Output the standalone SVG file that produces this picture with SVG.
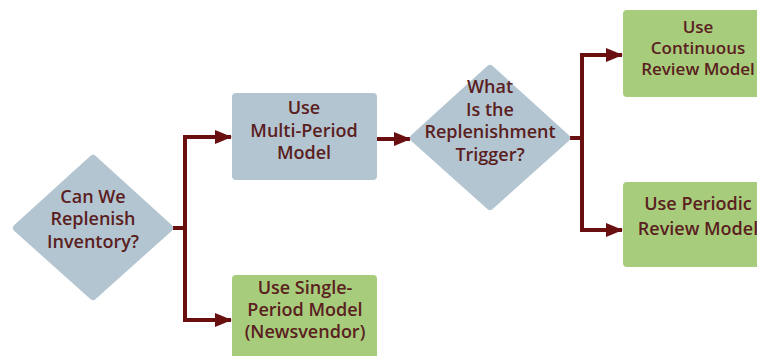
<svg xmlns="http://www.w3.org/2000/svg" width="757" height="356" viewBox="0 0 757 356">
  <style>
    .decision { fill: #b3c5d1; stroke: #b3c5d1; stroke-width: 8; stroke-linejoin: round; }
    .process { fill: #b3c5d1; }
    .outcome { fill: #a7cd7c; }
    .label { font-family: "Open Sans", "Liberation Sans", sans-serif; font-weight: 600; font-size: 18px; fill: #5a2020; text-anchor: middle; }
    .tight { font-size: 17px; }
    .wire { fill: none; stroke: #6a0f10; stroke-width: 4; stroke-linejoin: miter; }
  </style>
  <defs>
    <marker id="head" viewBox="0 0 17 14" refX="16" refY="7" markerWidth="17" markerHeight="14" markerUnits="userSpaceOnUse" orient="auto">
      <path d="M0,0 L17,7 L0,14 Z" fill="#6a0f10"/>
    </marker>
  </defs>

  <g id="connectors">
    <path class="wire" d="M173,228 H185 V137 H231" marker-end="url(#head)"/>
    <path class="wire" d="M185,228 V320 H231" marker-end="url(#head)"/>
    <path class="wire" d="M377,139 H410" marker-end="url(#head)"/>
    <path class="wire" d="M570,138 H582 V55 H622" marker-end="url(#head)"/>
    <path class="wire" d="M582,138 V230 H622" marker-end="url(#head)"/>
  </g>

  <g id="can-we-replenish">
    <polygon class="decision" points="93,159 169,228 93,296 17,228"/>
    <text class="label" x="93" y="203">Can We</text>
    <text class="label" x="93" y="225">Replenish</text>
    <text class="label" x="93" y="248">Inventory?</text>
  </g>

  <g id="multi-period">
    <rect class="process" x="232" y="93" width="145" height="87" rx="4"/>
    <text class="label" x="304" y="114">Use</text>
    <text class="label" x="304" y="137">Multi-Period</text>
    <text class="label" x="304" y="159">Model</text>
  </g>

  <g id="single-period">
    <rect class="outcome" x="232" y="275" width="145" height="90" rx="4"/>
    <text class="label" x="305" y="294">Use Single-</text>
    <text class="label" x="305" y="316">Period Model</text>
    <text class="label" x="305" y="338">(Newsvendor)</text>
  </g>

  <g id="replenishment-trigger">
    <polygon class="decision" points="490,69 566,138 490,206 414,138"/>
    <text class="label" x="490" y="93">What</text>
    <text class="label" x="490" y="116">Is the</text>
    <text class="label" x="490" y="138">Replenishment</text>
    <text class="label" x="490" y="161">Trigger?</text>
  </g>

  <g id="continuous-review">
    <rect class="outcome" x="623" y="10" width="150" height="87" rx="4"/>
    <text class="label tight" x="698" y="33">Use</text>
    <text class="label tight" x="698" y="54">Continuous</text>
    <text class="label tight" x="698" y="75">Review Model</text>
  </g>

  <g id="periodic-review">
    <rect class="outcome" x="623" y="182" width="150" height="85" rx="4"/>
    <text class="label" x="698" y="210">Use Periodic</text>
    <text class="label" x="698" y="235">Review Model</text>
  </g>
</svg>
